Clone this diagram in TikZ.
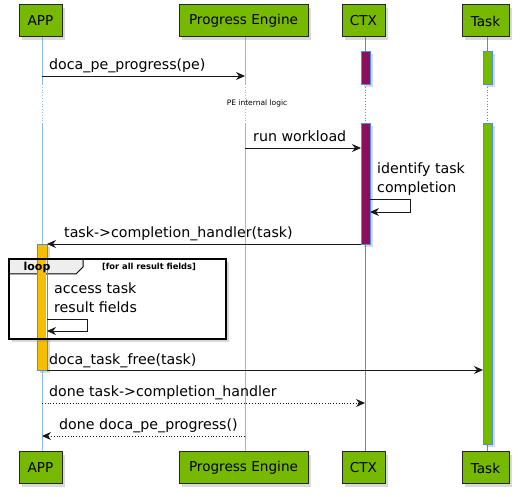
\documentclass[tikz,border=0pt]{standalone}
\usepackage{fontspec}
\setmainfont{DejaVu Sans}
\usetikzlibrary{shadows,arrows.meta}
\definecolor{nvgreen}{HTML}{76B900}
\definecolor{ctxpurple}{HTML}{8B0F5C}
\definecolor{apporange}{HTML}{F5BE00}
\definecolor{lifeblue}{HTML}{4A90E2}
\definecolor{lifelight}{HTML}{8DBBEC}
\definecolor{tabgray}{HTML}{EEEEEE}
\tikzset{
  part/.style={draw=black!85, line width=1pt, fill=nvgreen, minimum height=32pt, inner sep=0pt,
    font=\fontsize{13.6}{15}\selectfont, drop shadow={shadow xshift=3pt, shadow yshift=-3pt, opacity=0.3}},
  act/.style={draw=lifeblue, line width=0.8pt, drop shadow={shadow xshift=3pt, shadow yshift=-3pt, opacity=0.3}},
  life/.style={draw=lifeblue, line width=0.8pt},
  lifel/.style={draw=lifelight, line width=0.8pt},
  msg/.style={draw=black!90, line width=0.8pt, -{Stealth[length=9pt,width=8pt,inset=3pt]}},
  rmsg/.style={msg, dotted},
  lbl/.style={anchor=base west, inner sep=0pt, align=left, font=\fontsize{14.2}{19}\selectfont},
}
\begin{document}
\begin{tikzpicture}[x=1pt,y=-1pt]
\useasboundingbox (0,0) rectangle (523,497);
% lifelines
\draw[lifel] (42,37) -- (42,84); \draw[lifel,dotted] (42,84) -- (42,123); \draw[lifel] (42,123) -- (42,452);
\draw[lifel] (245,37) -- (245,84); \draw[lifel,dotted] (245,84) -- (245,123); \draw[lifel] (245,123) -- (245,452);
\draw[life] (365,37) -- (365,84); \draw[life,dotted] (365,84) -- (365,123); \draw[life] (365,123) -- (365,452);
\draw[life] (487,37) -- (487,84); \draw[life,dotted] (487,84) -- (487,123); \draw[life] (487,123) -- (487,452);
% participants top
\node[part, minimum width=43pt] (appT) at (40.5,21) {APP};
\node[part, minimum width=129pt] (peT) at (243.5,21) {Progress Engine};
\node[part, minimum width=43pt] (ctxT) at (363.5,21) {CTX};
\node[part, minimum width=47pt] (taskT) at (485.5,21) {Task};
% participants bottom
\node[part, minimum width=43pt] (appB) at (40.5,468) {APP};
\node[part, minimum width=129pt] (peB) at (243.5,468) {Progress Engine};
\node[part, minimum width=43pt] (ctxB) at (363.5,468) {CTX};
\node[part, minimum width=47pt] (taskB) at (485.5,468) {Task};
% activations
\draw[act, fill=ctxpurple] (361,51) rectangle (370,84);
\draw[act, fill=nvgreen] (483,51) rectangle (492,84);
\draw[act, fill=ctxpurple] (361,123) rectangle (370,244);
\draw[act, fill=nvgreen] (483,123) rectangle (492,444);
\draw[act, fill=apporange] (37,244) rectangle (47,370);
% coordinates
\coordinate (a1) at (42,76); \coordinate (p1) at (245,76);
\coordinate (p2) at (245,148); \coordinate (c2) at (361,148);
\coordinate (c3) at (361,244); \coordinate (a3) at (47,244);
\coordinate (a4) at (47,370); \coordinate (t4) at (483,370);
\coordinate (a5) at (42,403); \coordinate (c5) at (365,403);
\coordinate (p6) at (245,436); \coordinate (a6) at (42,436);
% messages
\draw[msg] (a1) -- (p1);
\node[lbl] (m1) at (49,69.5) {doca\_pe\_progress(pe)};
\node[font=\fontsize{7.5}{8}\selectfont, inner sep=0pt] (div) at (257,103.5) {PE internal logic};
\draw[msg] (p2) -- (c2);
\node[lbl] (m2) at (253,141.5) {run workload};
\node[lbl] (m3) at (377,193) {identify task\\completion};
\coordinate (s1) at (370,199); \coordinate (s2) at (370,212);
\draw[msg] (s1) -- (410,199) -- (410,212) -- (s2);
\draw[msg] (c3) -- (a3);
\node[lbl] (m4) at (64,238) {task->completion\_handler(task)};
% loop frame
\draw[line width=1.5pt, fill=white, drop shadow={shadow xshift=3pt, shadow yshift=-3pt, opacity=0.3}] (9,259) rectangle (226,339);
\draw[line width=1pt, fill=tabgray] (9,259) -- (83,259) -- (83,267) -- (76,274) -- (9,274) -- cycle;
\draw[line width=1.5pt] (9,259) rectangle (226,339);
\fill[apporange] (37.6,259.8) rectangle (46.4,338.2);
\draw[lifeblue, line width=0.8pt] (37,259.8) -- (37,338.2) (47,259.8) -- (47,338.2);
\node[font=\bfseries\fontsize{11}{12}\selectfont, inner sep=0pt, anchor=base] (lp) at (37,270.5) {loop};
\node[font=\bfseries\fontsize{8.3}{10}\selectfont, inner sep=0pt, anchor=base] (gd) at (149,269.5) {[for all result fields]};
\node[lbl] (m5) at (54,312.7) {access task\\result fields};
\coordinate (s3) at (47,319); \coordinate (s4) at (47,331);
\draw[msg] (s3) -- (87,319) -- (87,331) -- (s4);
\draw[msg] (a4) -- (t4);
\node[lbl] (m6) at (49,365) {doca\_task\_free(task)};
\draw[rmsg] (a5) -- (c5);
\node[lbl] (m7) at (49,397) {done task->completion\_handler};
\draw[rmsg] (p6) -- (a6);
\node[lbl] (m8) at (59,429.5) {done doca\_pe\_progress()};
\end{tikzpicture}
\end{document}
